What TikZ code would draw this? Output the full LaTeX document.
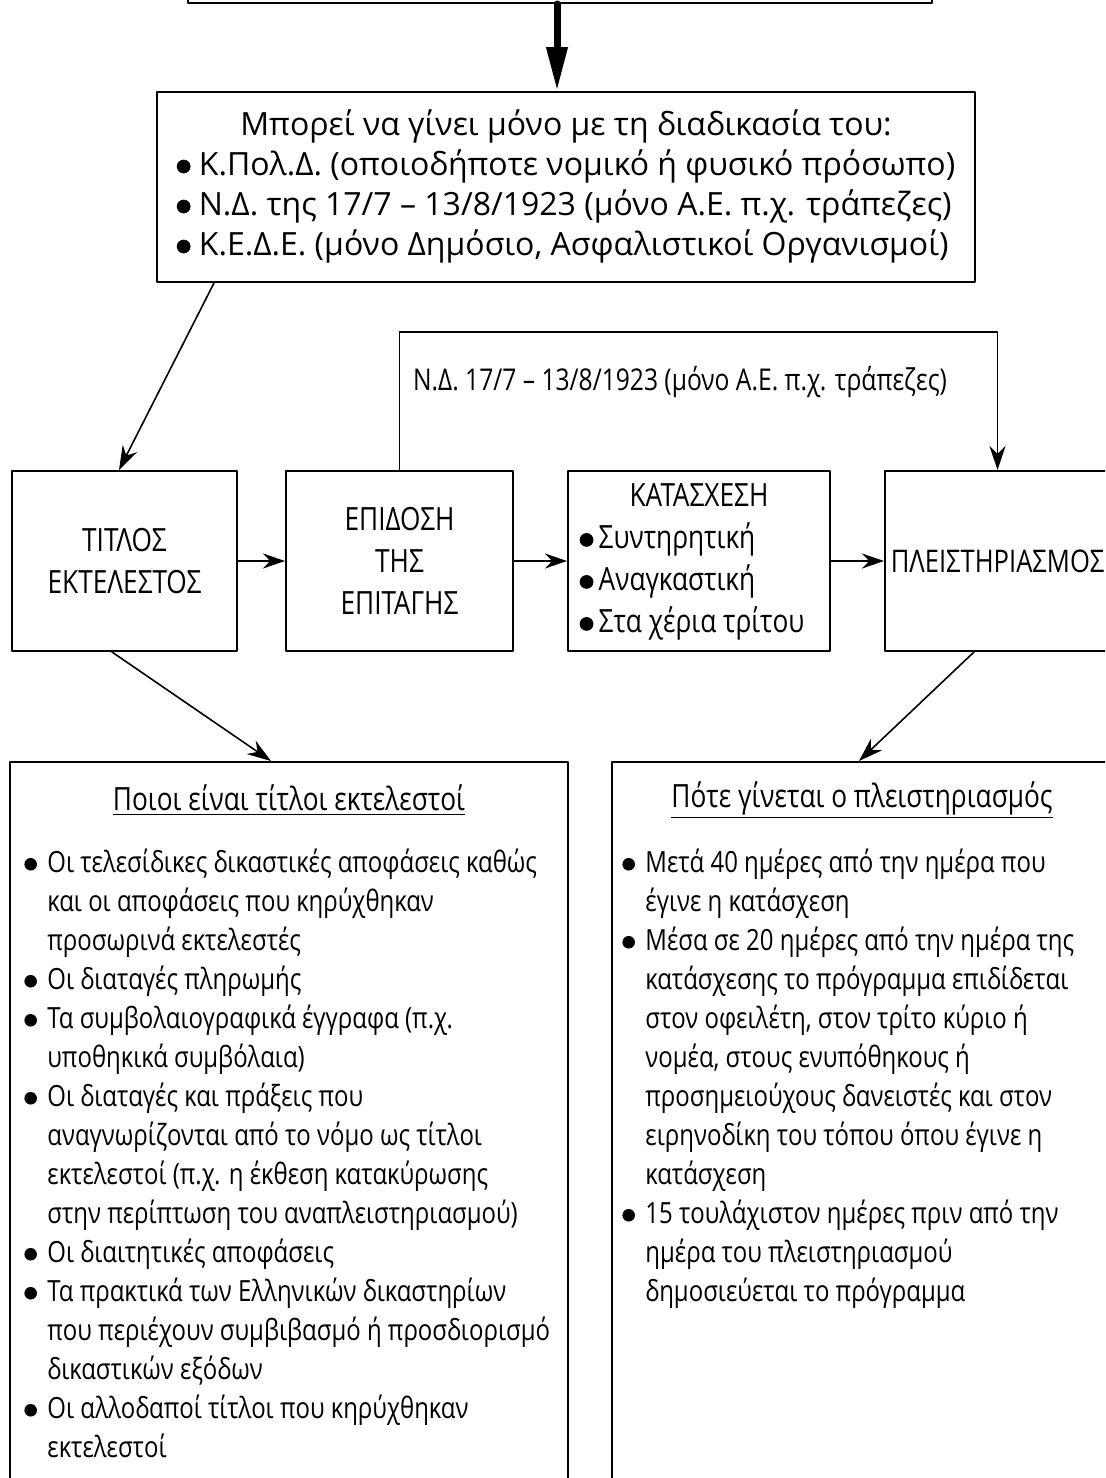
\documentclass[tikz,border=0pt]{standalone}
\usepackage{fontspec}
\setmainfont{Open Sans}
\newfontfamily\narrowfont{Open Sans}[FakeStretch=0.82]
\usetikzlibrary{arrows.meta,calc}
\newcommand\bul{\raisebox{0.05em}{\tikz\fill (0,0) circle (0.215em);}}

\tikzset{
  box/.style={draw,line width=1pt,inner sep=0pt,align=center},
  arr/.style={line width=0.8pt,-{Stealth[length=12pt,width=8pt]}},
  harr/.style={line width=1pt,-{Stealth[length=11pt,width=7.5pt]}},
  rowtxt/.style={font=\narrowfont\fontsize{16}{21}\selectfont},
  listtxt/.style={font=\narrowfont\fontsize{14.6}{19.5}\selectfont,inner sep=0pt,anchor=base west},
  ttl/.style={font=\narrowfont\fontsize{16}{19}\selectfont},
}

\begin{document}
\begin{tikzpicture}[x=0.5pt,y=-0.5pt,line cap=round,line join=round]
\useasboundingbox (0,0) rectangle (1105,1478);
\clip (0,0) rectangle (1105,1478);

% box above, only its lower edge shows
\node[box,minimum width=372pt,minimum height=60pt] (prev) at (560,-57) {};
\node[box,minimum width=409pt,minimum height=95pt,font=\fontsize{16}{20}\selectfont] (proc) at (566,187)
{\begin{tabular}{@{}l@{}}
\multicolumn{1}{@{}c@{}}{Μπορεί να γίνει μόνο με τη διαδικασία του:}\\
\bul\ Κ.Πολ.Δ. (οποιοδήποτε νομικό ή φυσικό πρόσωπο)\\
\bul\ Ν.Δ. της 17/7 – 13/8/1923 (μόνο Α.Ε. π.χ. τράπεζες)\\
\bul\ Κ.Ε.Δ.Ε. (μόνο Δημόσιο, Ασφαλιστικοί Οργανισμοί)
\end{tabular}};
\draw[line width=3.5pt,-{Triangle[length=22pt,width=10pt]}] (prev.south -| 557,0) -- (proc.north -| 557,0);

% the row of steps
\node[box,rowtxt,minimum width=112.5pt,minimum height=90pt] (tit) at (124.5,561) {ΤΙΤΛΟΣ\\ΕΚΤΕΛΕΣΤΟΣ};
\node[box,rowtxt,minimum width=113.5pt,minimum height=90pt] (epi) at (399.5,561) {ΕΠΙΔΟΣΗ\\ΤΗΣ\\ΕΠΙΤΑΓΗΣ};
\node[box,rowtxt,minimum width=131pt,minimum height=90pt] (kat) at (699,561)
{\begin{tabular}{@{}p{9.5pt}@{}l@{\hspace{7pt}}}
\multicolumn{2}{@{}c@{}}{ΚΑΤΑΣΧΕΣΗ}\\
\bul & Συντηρητική\\
\bul & Αναγκαστική\\
\bul & Στα χέρια τρίτου
\end{tabular}};
\node[box,rowtxt,font=\narrowfont\fontsize{15.6}{21}\selectfont,minimum width=112.5pt,minimum height=90pt] (pleis) at (997.5,561) {ΠΛΕΙΣΤΗΡΙΑΣΜΟΣ};

\draw[harr] (tit) -- (epi);
\draw[harr] (epi) -- (kat);
\draw[harr] (kat) -- (pleis);

\draw[arr] ($(proc.south west)+(58,0)$) -- ($(tit.north west)+(108,0)$);
\draw[arr] (epi.north) -- ++(0,-138) -| (pleis.north);
\node[font=\narrowfont\fontsize{15}{18}\selectfont] (ndlbl) at (680,382)
  {Ν.Δ. 17/7 – 13/8/1923 (μόνο Α.Ε. π.χ. τράπεζες)};

% the two lower boxes
\node[box,minimum width=279pt,minimum height=369pt] (who) at (289,1131) {};
\node[box,minimum width=256.5pt,minimum height=369pt] (when) at (868.5,1131) {};
\draw[arr] ($(tit.south west)+(101,0)$) -- ($(who.north west)+(262,0)$);
\draw[arr] ($(pleis.south west)+(90,0)$) -- ($(when.north west)+(248,0)$);

\node[ttl] (whoT) at (289,800) {\underline{Ποιοι είναι τίτλοι εκτελεστοί}};
\node[ttl] (whenT) at (862,800) {\underline{Πότε γίνεται ο πλειστηριασμός}};

\node[listtxt] (whoL) at (24,872)
{\begin{tabular}[t]{@{}p{11.5pt}@{}l@{}}
\bul & Οι τελεσίδικες δικαστικές αποφάσεις καθώς\\
  & και οι αποφάσεις που κηρύχθηκαν\\
  & προσωρινά εκτελεστές\\
\bul & Οι διαταγές πληρωμής\\
\bul & Τα συμβολαιογραφικά έγγραφα (π.χ.\\
  & υποθηκικά συμβόλαια)\\
\bul & Οι διαταγές και πράξεις που\\
  & αναγνωρίζονται από το νόμο ως τίτλοι\\
  & εκτελεστοί (π.χ. η έκθεση κατακύρωσης\\
  & στην περίπτωση του αναπλειστηριασμού)\\
\bul & Οι διαιτητικές αποφάσεις\\
\bul & Τα πρακτικά των Ελληνικών δικαστηρίων\\
  & που περιέχουν συμβιβασμό ή προσδιορισμό\\
  & δικαστικών εξόδων\\
\bul & Οι αλλοδαποί τίτλοι που κηρύχθηκαν\\
  & εκτελεστοί
\end{tabular}};

\node[listtxt] (whenL) at (622,872)
{\begin{tabular}[t]{@{}p{11.5pt}@{}l@{}}
\bul & Μετά 40 ημέρες από την ημέρα που\\
  & έγινε η κατάσχεση\\
\bul & Μέσα σε 20 ημέρες από την ημέρα της\\
  & κατάσχεσης το πρόγραμμα επιδίδεται\\
  & στον οφειλέτη, στον τρίτο κύριο ή\\
  & νομέα, στους ενυπόθηκους ή\\
  & προσημειούχους δανειστές και στον\\
  & ειρηνοδίκη του τόπου όπου έγινε η\\
  & κατάσχεση\\
\bul & 15 τουλάχιστον ημέρες πριν από την\\
  & ημέρα του πλειστηριασμού\\
  & δημοσιεύεται το πρόγραμμα
\end{tabular}};
\end{tikzpicture}
\end{document}
